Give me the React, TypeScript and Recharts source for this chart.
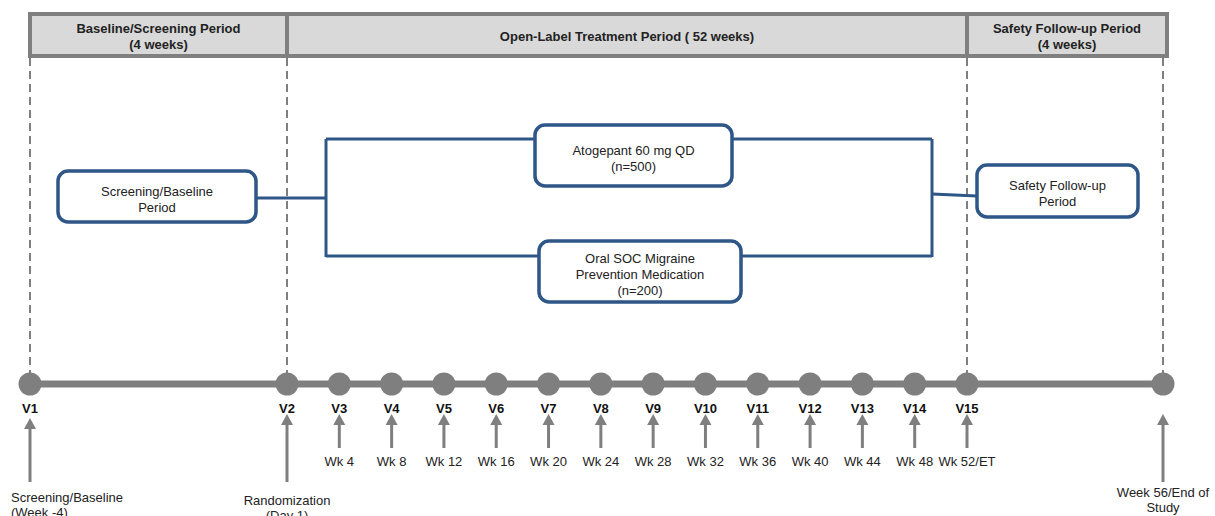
import {
  ComposedChart,
  ReferenceArea,
  ReferenceLine,
  Scatter,
  XAxis,
  YAxis,
} from "recharts";

// study data
const visitLabels = ["V1", "V2", "V3", "V4", "V5", "V6", "V7", "V8", "V9", "V10", "V11", "V12", "V13", "V14", "V15", ""];
const visitWeeks = [-4, 0, 4, 8, 12, 16, 20, 24, 28, 32, 36, 40, 44, 48, 52, 56];
const visitNotes = [
  "Screening/Baseline\n(Week -4)",
  "Randomization\n(Day 1)",
  "Wk 4", "Wk 8", "Wk 12", "Wk 16", "Wk 20", "Wk 24", "Wk 28",
  "Wk 32", "Wk 36", "Wk 40", "Wk 44", "Wk 48", "Wk 52/ET",
  "Week 56/End of\nStudy",
];

const periodNames = [
  "Baseline/Screening Period\n(4 weeks)",
  "Open-Label Treatment Period ( 52 weeks)",
  "Safety Follow-up Period\n(4 weeks)",
];
const periodStart = [-4, 0, 52];
const periodEnd = [0, 52, 56];

const armLabels = ["Atogepant 60 mg QD\n(n=500)", "Oral SOC Migraine\nPrevention Medication\n(n=200)"];
const screeningLabel = "Screening/Baseline\nPeriod";
const followUpLabel = "Safety Follow-up\nPeriod";

const W = 1215;
const H = 516;
const FONT = "'Liberation Sans', Arial, sans-serif";
const GREY = "#7f7f7f";
const BLUE = "#2e5687";
const LINE_Y = 384;

// timeline is drawn piecewise: the screening and follow-up months are stretched
const pos = (w: number) => {
  if (w <= 0) return 287 + w * 64.25;
  if (w <= 52) return 287 + w * (680 / 52);
  return 967 + (w - 52) * 49;
};

const visits = visitWeeks.map((w, i) => ({
  x: pos(w),
  y: LINE_Y,
  name: visitLabels[i],
  note: visitNotes[i],
  first: i === 0,
}));

// flowchart boxes [x1, x2, y1, y2]
const boxes = [
  { label: screeningLabel, r: [58, 256, 171, 222] },
  { label: armLabels[0], r: [535, 732, 125, 186] },
  { label: armLabels[1], r: [539, 741, 241, 302] },
  { label: followUpLabel, r: [977, 1138, 165, 217] },
];

const connectors: [number, number, number, number][] = [
  [256, 198, 326, 198],
  [326, 139, 326, 257],
  [326, 139, 535, 139],
  [326, 256, 539, 256],
  [732, 139, 932, 139],
  [741, 256, 932, 256],
  [932, 139, 932, 257],
  [932, 194, 977, 196],
];

const MultiText = ({ x, cy, text, bold, anchor = "middle", gap = 16 }: any) => {
  const lines = text.split("\n");
  const top = cy - ((lines.length - 1) * gap) / 2;
  return (
    <text x={x} textAnchor={anchor} fontFamily={FONT} fontSize={13} fontWeight={bold ? 700 : 400} fill="#222">
      {lines.map((l: string, i: number) => (
        <tspan key={i} x={x} y={top + i * gap + 4.5}>
          {l}
        </tspan>
      ))}
    </text>
  );
};

const Visit = (props: any) => {
  const { cx, cy, payload } = props;
  const long = payload.note.includes("\n");
  const tip = long ? (payload.first ? 418 : 414) : 414;
  const tail = long ? 482 : 448;
  return (
    <g>
      <circle cx={cx} cy={cy} r={11.5} fill={GREY} />
      <text x={cx} y={413} textAnchor="middle" fontFamily={FONT} fontSize={13} fontWeight={700} fill="#111">
        {payload.name}
      </text>
      <path d={`M${cx} ${tip} L${cx - 6} ${tip + 11} L${cx + 6} ${tip + 11} Z`} fill={GREY} />
      <line x1={cx} y1={tip + 10} x2={cx} y2={tail} stroke={GREY} strokeWidth={3} />
      {long ? (
        <MultiText
          x={payload.first ? cx - 19 : cx}
          cy={payload.first ? 505 : payload.name ? 508 : 500}
          text={payload.note}
          anchor={payload.first ? "start" : "middle"}
          gap={15}
        />
      ) : (
        <MultiText x={cx} cy={461} text={payload.note} />
      )}
    </g>
  );
};

export default function App() {
  return (
    <div style={{ position: "absolute", left: 0, top: 0, background: "#fff" }}>
      <ComposedChart width={W} height={H} margin={{ top: 0, right: 0, bottom: 0, left: 0 }}>
        <XAxis type="number" dataKey="x" domain={[0, W]} allowDataOverflow hide />
        <YAxis type="number" dataKey="y" domain={[0, H]} allowDataOverflow reversed hide />

        {/* period boundaries */}
        {[-4, 0, 52, 56].map((w) => (
          <ReferenceLine
            key={w}
            segment={[
              { x: pos(w), y: 58 },
              { x: pos(w), y: 373 },
            ]}
            stroke={GREY}
            strokeWidth={2}
            strokeDasharray="8 5"
          />
        ))}

        {/* period headers */}
        {periodNames.map((name, i) => (
          <ReferenceArea
            key={name}
            x1={pos(periodStart[i])}
            x2={pos(periodEnd[i]) + (i === 2 ? 4 : 0)}
            y1={14}
            y2={56}
            shape={(p: any) => (
              <g>
                <rect x={p.x} y={p.y} width={p.width} height={p.height} fill="#d9d9d9" stroke={GREY} strokeWidth={4} />
                <MultiText x={p.x + p.width / 2} cy={p.y + p.height / 2 + 1.5} text={name} bold />
              </g>
            )}
          />
        ))}

        {/* arm flow connectors */}
        {connectors.map((c, i) => (
          <ReferenceLine
            key={i}
            segment={[
              { x: c[0], y: c[1] },
              { x: c[2], y: c[3] },
            ]}
            stroke={BLUE}
            strokeWidth={3}
          />
        ))}

        {boxes.map((b) => (
          <ReferenceArea
            key={b.label}
            x1={b.r[0]}
            x2={b.r[1]}
            y1={b.r[2]}
            y2={b.r[3]}
            shape={(p: any) => (
              <g>
                <rect x={p.x} y={p.y} width={p.width} height={p.height} rx={10} fill="#fff" stroke={BLUE} strokeWidth={3.5} />
                <MultiText x={p.x + p.width / 2} cy={p.y + p.height / 2 + 2.5} text={b.label} />
              </g>
            )}
          />
        ))}

        {/* timeline */}
        <ReferenceLine
          segment={[
            { x: pos(-4), y: LINE_Y },
            { x: pos(56), y: LINE_Y },
          ]}
          stroke={GREY}
          strokeWidth={7}
        />
        <Scatter data={visits} dataKey="y" shape={<Visit />} isAnimationActive={false} />
      </ComposedChart>
    </div>
  );
}
